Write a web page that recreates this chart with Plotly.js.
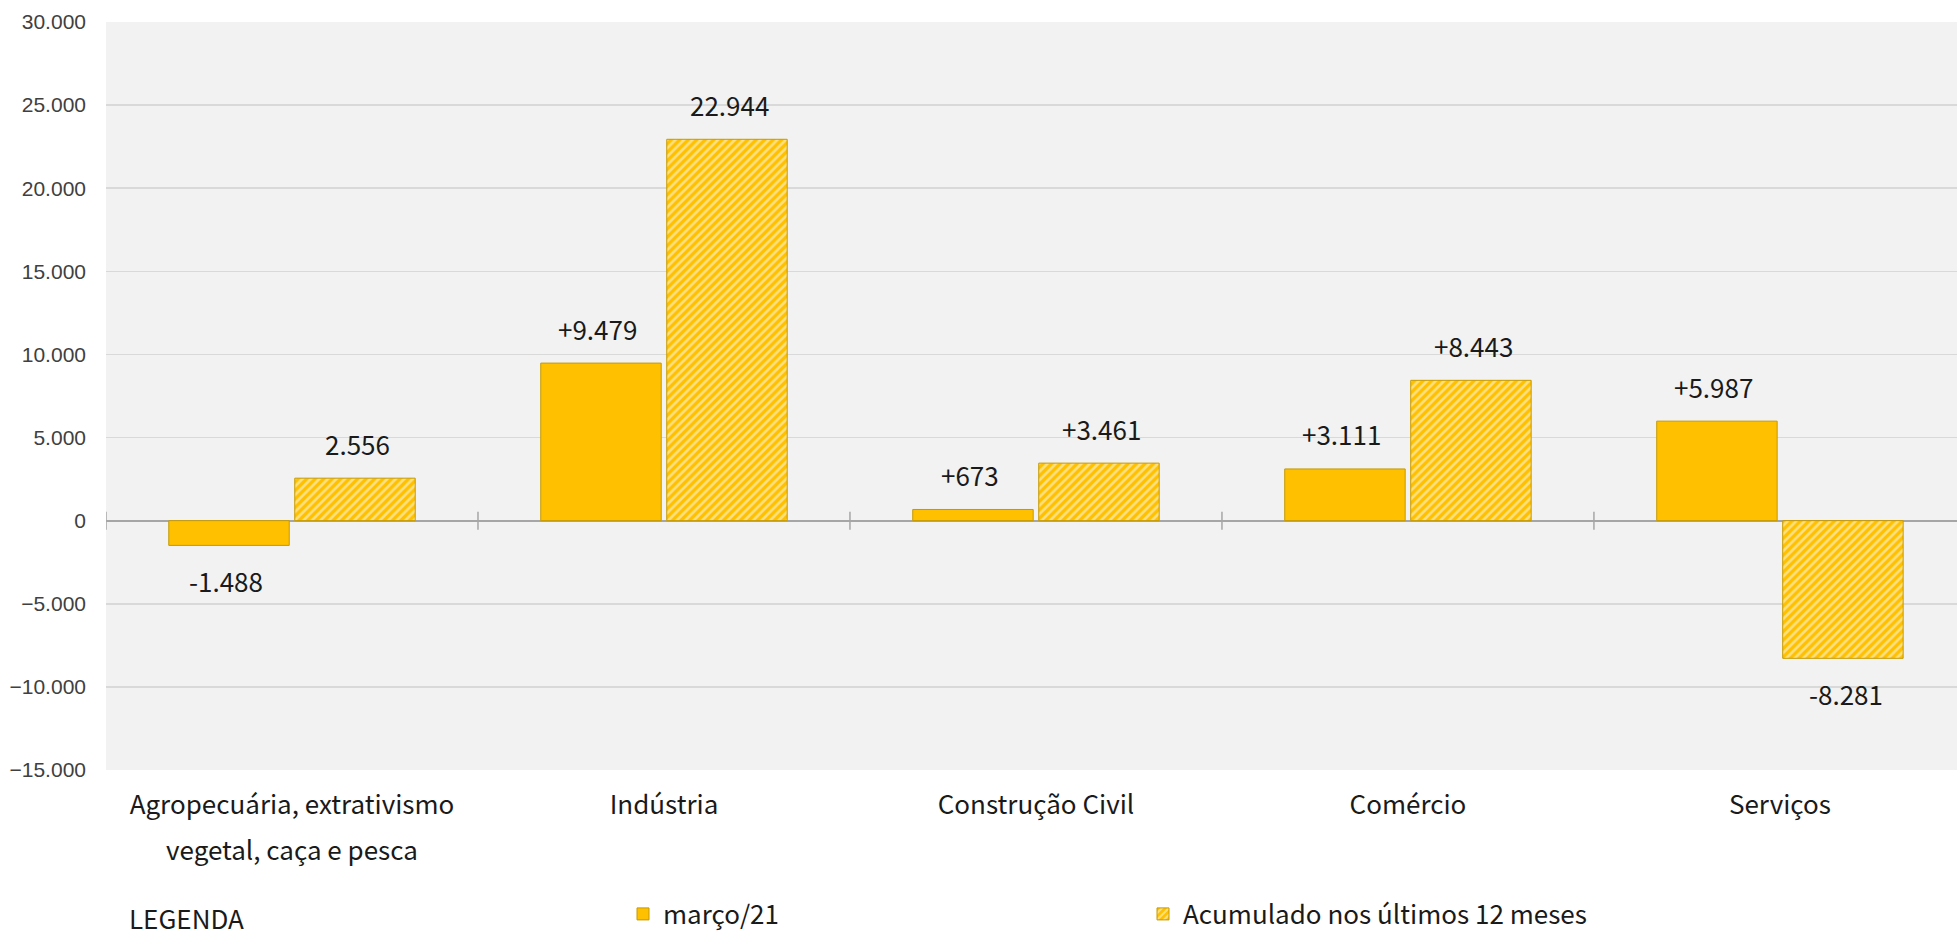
<!DOCTYPE html>
<html>
<head>
<meta charset="utf-8">
<script src="https://cdn.plot.ly/plotly-3.0.1.min.js"></script>
<style>
html,body{margin:0;padding:0;background:#fff;}
#chart{width:1957px;height:937px;}
</style>
</head>
<body>
<div id="chart"></div>
<script>
// ---- data ----
const categoryLines = [
  ["Agropecuária, extrativismo", "vegetal, caça e pesca"],
  ["Indústria"],
  ["Construção Civil"],
  ["Comércio"],
  ["Serviços"]
];
const monthValues = [-1488, 9479, 673, 3111, 5987];
const monthLabels = ["-1.488", "+9.479", "+673", "+3.111", "+5.987"];
const accumValues = [2556, 22944, 3461, 8443, -8281];
const accumLabels = ["2.556", "22.944", "+3.461", "+8.443", "-8.281"];
const seriesNames = ["março/21", "Acumulado nos últimos 12 meses"];
const yTickValues = [-15000, -10000, -5000, 0, 5000, 10000, 15000, 20000, 25000, 30000];

// ---- style ----
const GOLD = "#FFC000";
const GOLD_LINE = "#C49A00";
const LABEL_FONT = "Noto Sans CJK JP, Noto Sans, sans-serif";
const CAT_FONT_SIZE = 26;
const CAT_LINE_SIZE = 35;   // sets line spacing of the category labels (1.3em)
const BAR_SHIFT = 66;       // px offset of each grouped bar from its category centre
const LABEL_GAP = 35;       // px from bar end to label centre

const categories = categoryLines.map(lines =>
  lines.map(t => '<span style="font-size:' + CAT_FONT_SIZE + 'px">' + t + '</span>').join("<br>")
);

const traces = [
  {
    type: "bar",
    name: seriesNames[0],
    x: categories,
    y: monthValues,
    marker: {color: GOLD, line: {color: GOLD_LINE, width: 1}},
    hoverinfo: "skip"
  },
  {
    type: "bar",
    name: seriesNames[1],
    x: categories,
    y: accumValues,
    marker: {
      color: GOLD,
      line: {color: GOLD_LINE, width: 1},
      pattern: {shape: "/", fgcolor: "#ffffff", bgcolor: GOLD, size: 6, solidity: 0.45, fillmode: "overlay"}
    },
    hoverinfo: "skip"
  }
];

const annotations = [];
function addLabels(vals, labels, shift) {
  vals.forEach((v, i) => {
    annotations.push({
      x: categories[i], y: v, xref: "x", yref: "y",
      text: labels[i], showarrow: false,
      xshift: shift, yshift: v >= 0 ? LABEL_GAP : -LABEL_GAP,
      xanchor: "center", yanchor: "middle",
      font: {family: LABEL_FONT, size: 26, color: "#1a1a1a"}
    });
  });
}
addLabels(monthValues, monthLabels, -BAR_SHIFT);
addLabels(accumValues, accumLabels, BAR_SHIFT);

annotations.push({
  xref: "paper", yref: "paper", x: 0.0113, y: -0.197,
  xanchor: "left", yanchor: "middle", showarrow: false,
  text: "LEGENDA",
  font: {family: LABEL_FONT, size: 26, color: "#1a1a1a"}
});

// cross tick marks on the zero line at category boundaries
const shapes = [];
for (let i = 0; i <= categories.length; i++) {
  shapes.push({
    type: "line", xref: "x", yref: "y",
    x0: i - 0.5, x1: i - 0.5,
    ysizemode: "pixel", yanchor: 0, y0: -9, y1: 9,
    line: {color: "#A6A6A6", width: 1.5},
    layer: "above"
  });
}

const layout = {
  width: 1957, height: 937,
  margin: {l: 106, r: 0, t: 22, b: 167},
  paper_bgcolor: "#ffffff",
  plot_bgcolor: "#F2F2F2",
  separators: ",.",
  barmode: "group",
  bargap: 0.3226,
  bargroupgap: 0.044,
  showlegend: true,
  legend: {
    orientation: "h",
    xref: "container", yref: "container",
    x: 623 / 1957, y: 1 - 914 / 937,
    xanchor: "left", yanchor: "middle",
    entrywidth: 475, entrywidthmode: "pixels",
    font: {family: LABEL_FONT, size: 26, color: "#1a1a1a"},
    bgcolor: "rgba(0,0,0,0)",
    traceorder: "normal"
  },
  xaxis: {
    type: "category",
    range: [-0.5, 4.476],
    showgrid: false, zeroline: false, showline: false,
    ticks: "",
    ticklabelstandoff: 8,
    tickfont: {family: LABEL_FONT, size: CAT_LINE_SIZE, color: "#1a1a1a"},
    fixedrange: true
  },
  yaxis: {
    range: [-15000, 30000],
    tickvals: yTickValues,
    tickformat: ",d",
    showgrid: true, gridcolor: "#D9D9D9", gridwidth: 1.5,
    zeroline: true, zerolinecolor: "#A6A6A6", zerolinewidth: 2,
    showline: false, ticks: "",
    ticklabelstandoff: 19,
    tickfont: {family: "Liberation Sans, Arial, sans-serif", size: 21, color: "#404040"},
    fixedrange: true
  },
  annotations: annotations,
  shapes: shapes
};

Plotly.newPlot("chart", traces, layout, {displayModeBar: false, staticPlot: true});
</script>
</body>
</html>
